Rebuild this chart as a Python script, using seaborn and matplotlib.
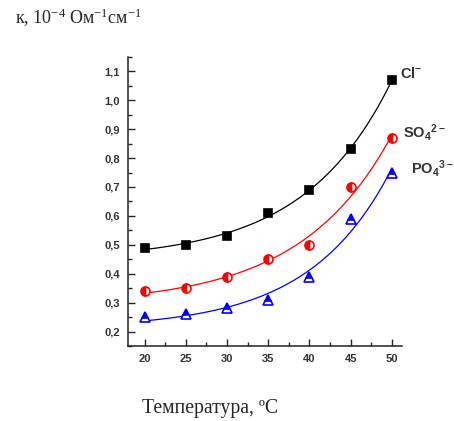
import numpy as np
import pandas as pd
import matplotlib
matplotlib.use("Agg")
import matplotlib.pyplot as plt
import seaborn as sns
from matplotlib.ticker import MultipleLocator, FuncFormatter

temps = [20, 25, 30, 35, 40, 45, 50]
cl = [0.49, 0.50, 0.53, 0.61, 0.69, 0.83, 1.07]
so4 = [0.34, 0.35, 0.39, 0.45, 0.50, 0.70, 0.87]
po4 = [0.25, 0.26, 0.28, 0.31, 0.39, 0.59, 0.75]


def exp_fit(x, y):
    x = np.asarray(x, float)
    y = np.asarray(y, float)
    best = None
    for t in np.linspace(3, 40, 600):
        e = np.exp(x / t)
        M = np.vstack([np.ones_like(x), e]).T
        coef, *_ = np.linalg.lstsq(M, y, rcond=None)
        r = np.sum((M @ coef - y) ** 2)
        if best is None or r < best[0]:
            best = (r, t, coef)
    _, t, coef = best
    xs = np.linspace(x.min(), x.max(), 200)
    return xs, coef[0] + coef[1] * np.exp(xs / t)


sns.set_style("ticks")
plt.rcParams["mathtext.default"] = "regular"
plt.rcParams["font.family"] = ["Liberation Sans", "DejaVu Sans"]

fig = plt.figure(figsize=(4.54, 4.21), dpi=100)
ax = fig.add_axes([0.282, 0.178, 0.603, 0.687])

series = [("Cl", cl, "black", "s", "full"),
          ("SO4", so4, "#ff0000", "o", "left"),
          ("PO4", po4, "#0000ff", "^", "top")]

for name, vals, col, mk, fs in series:
    xs, ys = exp_fit(temps, vals)
    sns.lineplot(x=xs, y=ys, ax=ax, color=col, lw=0.9)
    ax.plot(temps, vals, ls="none", marker=mk, color=col, fillstyle=fs,
            markerfacecoloralt="white", markeredgecolor=col,
            ms=6.5 if mk != "s" else 5.5, mew=1.2)

ax.set_xlim(18, 51.2)
ax.set_ylim(0.15, 1.15)
ax.xaxis.set_major_locator(MultipleLocator(5))
ax.xaxis.set_minor_locator(MultipleLocator(2.5))
ax.yaxis.set_major_locator(MultipleLocator(0.1))
ax.yaxis.set_minor_locator(MultipleLocator(0.05))
ax.yaxis.set_major_formatter(FuncFormatter(lambda v, p: f"{v:.1f}".replace(".", ",")))
ax.tick_params(which="major", direction="in", length=5, width=1, labelsize=8, pad=6)
ax.tick_params(which="minor", direction="in", length=3, width=1)
for lab in ax.get_xticklabels() + ax.get_yticklabels():
    lab.set_fontweight("bold")
    lab.set_color("#333333")
sns.despine(ax=ax)
for s in ["left", "bottom"]:
    ax.spines[s].set_linewidth(1.1)
    ax.spines[s].set_color("#222222")

serif = "Liberation Serif"
fig.text(15 / 454, 1 - 18 / 421, "к, 10$^{-4}$ Ом$^{-1}$см$^{-1}$", family=serif,
         fontsize=13, va="center", ha="left")
fig.text(142 / 454, 1 - 408 / 421, "Температура, ºC", family=serif, fontsize=14.2,
         va="center", ha="left")

ax.text(51.0, 1.078, "Cl$^{-}$", fontsize=10.5, fontweight="bold", color="#333333", clip_on=False)
ax.text(51.35, 0.871, "SO$_4$$^{2-}$", fontsize=10.5, fontweight="bold", color="#333333", clip_on=False)
ax.text(52.3, 0.747, "PO$_4$$^{3-}$", fontsize=10.5, fontweight="bold", color="#333333", clip_on=False)

fig.savefig("out.png", dpi=100)
